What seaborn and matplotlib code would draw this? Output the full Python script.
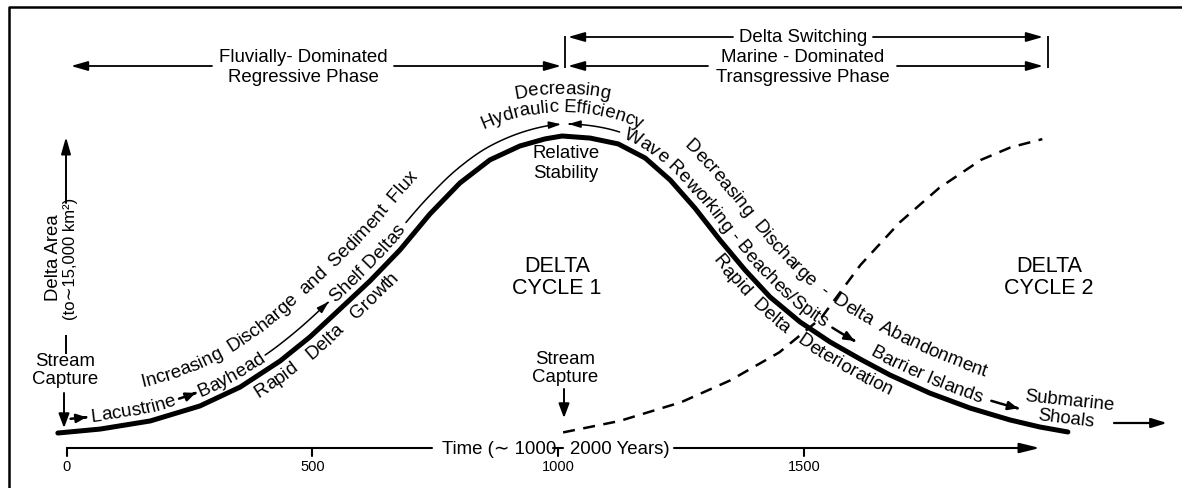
import numpy as np
import matplotlib
matplotlib.use("Agg")
import matplotlib.pyplot as plt
import seaborn as sns
from matplotlib.patches import FancyArrowPatch
from matplotlib.path import Path
from matplotlib.font_manager import FontProperties

# ---------------- data ----------------
cycle1_years = [-18, 68, 170, 271, 353, 434, 495, 556, 617, 678, 739, 800, 861, 922,
                973, 1008, 1065, 1122, 1177, 1228, 1278, 1329, 1380, 1431, 1492,
                1553, 1614, 1675, 1756, 1838, 1919, 1980, 2037]
cycle1_area = [0.72, 0.91, 1.3, 2.02, 2.93, 4.18, 5.34, 6.68, 8.03, 9.52, 11.25,
               12.74, 13.85, 14.52, 14.86, 15.0, 14.9, 14.62, 13.94, 12.88, 11.54,
               10.0, 8.56, 7.26, 6.06, 5.1, 4.28, 3.51, 2.64, 1.92, 1.35, 1.01, 0.77]
cycle2_years = [1010, 1125, 1250, 1350, 1450, 1535, 1615, 1695, 1775, 1860, 1920, 1985]
cycle2_area = [0.75, 1.3, 2.2, 3.25, 4.6, 6.25, 8.8, 10.85, 12.5, 13.85, 14.45, 14.85]
tick_years = [0, 500, 1000, 1500]
tick_labels = ["0", "500", "1000", "1500"]
time_axis_end = 1980

# ---------------- figure ----------------
sns.set_theme(style="white")
FAM = ["Liberation Sans", "DejaVu Sans"]
plt.rcParams["font.family"] = FAM
W, H = 1182, 488
fig = plt.figure(figsize=(W / 100, H / 100), dpi=100, facecolor="white")
ax = fig.add_axes([0, 0, 1, 1])
X0, SX = 66.7, 0.4915   # pixel of year 0, pixels per year
Y0, SY = 448.0, 20.8    # pixel row of zero area, pixels per area unit
ax.set_xlim(-X0 / SX, (W - X0) / SX)
ax.set_ylim(-(H - Y0) / SY, Y0 / SY)
ax.axis("off")
FS = 13.4
FSP = 13.6   # text along the curve
K = "black"


def P(px, py):
    return ((px - X0) / SX, (Y0 - py) / SY)


def line_px(pts, lw=1.3):
    d = np.array([P(*p) for p in pts])
    ax.plot(d[:, 0], d[:, 1], color=K, lw=lw, solid_capstyle="butt")


def arrow_px(p0, p1, lw=1.3, hl=14, hw=4.0):
    ms = 10
    style = f"-|>,head_length={hl * 0.72 / ms:.3f},head_width={hw * 0.72 / ms:.3f}"
    ax.annotate("", xy=P(*p1), xytext=P(*p0),
                arrowprops=dict(arrowstyle=style, color=K, lw=lw, mutation_scale=ms,
                                shrinkA=0, shrinkB=0))


def txt(px, py, s, fs=FS, ha="center", va="center", **kw):
    ax.text(*P(px, py), s, fontsize=fs, ha=ha, va=va, color=K, **kw)


# frame
ax.plot([9 / W, 9 / W, 1.01], [0, 1 - 7 / H, 1 - 7 / H], transform=ax.transAxes,
        color=K, lw=1.8, clip_on=False)

# curves
sns.lineplot(x=cycle1_years, y=cycle1_area, ax=ax, color=K, lw=3.6,
             sort=False, estimator=None)
sns.lineplot(x=cycle2_years, y=cycle2_area, ax=ax, color=K, lw=1.8,
             sort=False, estimator=None, linestyle=(0, (4.8, 3.4)))

# time axis
ax.plot([tick_years[0], P(432, 0)[0]], [0, 0], color=K, lw=1.5)
ms = 10
ax.annotate("", xy=(time_axis_end, 0), xytext=(P(674, 0)[0], 0),
            arrowprops=dict(arrowstyle=f"-|>,head_length={17*0.72/ms:.3f},head_width={4.2*0.72/ms:.3f}",
                            color=K, lw=1.5, mutation_scale=ms, shrinkA=0, shrinkB=0))
tick_len = 8 / SY
for yr, lab in zip(tick_years, tick_labels):
    ax.plot([yr, yr], [0, -tick_len], color=K, lw=1.5)
    ax.text(yr, P(0, 467)[1], lab, fontsize=10.5, ha="center", va="center", color=K)
ax.plot([1000 - 5 / SX, 1000 + 5 / SX], [0, 0], color=K, lw=1.5)
txt(556, 449, "Time (\u223c 1000", ha="right")
txt(570, 449, "2000 Years)", ha="left")

# phase brackets
txt(303, 58, "Fluvially- Dominated")
txt(303, 77, "Regressive Phase")
arrow_px((212, 66), (71, 66))
arrow_px((394, 66), (561, 66))
line_px([(565, 36), (565, 68)])
txt(803, 37, "Delta Switching")
arrow_px((733, 37), (568, 37))
arrow_px((873, 37), (1043, 37))
txt(803, 58, "Marine - Dominated")
txt(803, 77, "Transgressive Phase")
arrow_px((708, 66), (568, 66))
arrow_px((897, 66), (1043, 66))
line_px([(1048, 36), (1048, 68)])

# plain labels
txt(566, 154, "Relative")
txt(566, 173, "Stability")
txt(557, 267, "DELTA", fs=15.5)
txt(557, 289, "CYCLE 1", fs=15.5)
txt(1049, 267, "DELTA", fs=15.5)
txt(1049, 289, "CYCLE 2", fs=15.5)
txt(65, 361, "Stream")
txt(65, 379, "Capture")
txt(565, 359, "Stream")
txt(565, 377, "Capture")
arrow_px((64, 393), (64, 428), lw=1.4, hl=12, hw=4.5)
arrow_px((564, 389), (564, 418), lw=1.4, hl=12, hw=4.5)
txt(1069, 401, "Submarine", rotation=-6)
txt(1066, 419, "Shoals", rotation=-7)
arrow_px((1114, 423), (1167, 423), lw=1.6, hl=13, hw=4.0)
txt(53, 258, "Delta Area", rotation=90)
txt(71, 259, "(to\u223c15,000 km\u00b2)", fs=12, rotation=90)
arrow_px((66, 203), (66, 137), lw=1.4, hl=14, hw=4.0)
line_px([(66, 335), (66, 354)], lw=1.4)

# ---------------- text along paths ----------------
renderer = fig.canvas.get_renderer()
inv = ax.transData.inverted()


def adv(s, fs=FS):
    fp = FontProperties(family=FAM, size=fs)
    w1 = renderer.get_text_width_height_descent(s + "|", fp, ismath=False)[0]
    w0 = renderer.get_text_width_height_descent("|", fp, ismath=False)[0]
    return w1 - w0


def resample(pts, step=0.5):
    d = np.hypot(*np.diff(pts, axis=0).T)
    s = np.r_[0, np.cumsum(d)]
    ss = np.linspace(0, s[-1], int(s[-1] / step) + 1)
    return np.c_[np.interp(ss, s, pts[:, 0]), np.interp(ss, s, pts[:, 1])]


def smooth(pts, sigma=20):
    k = np.arange(-3 * sigma, 3 * sigma + 1)
    g = np.exp(-0.5 * (k / sigma) ** 2)
    g /= g.sum()
    pad = len(k) // 2
    a = 2 * pts[0] - pts[pad:0:-1]
    b = 2 * pts[-1] - pts[-2:-pad - 2:-1]
    ext = np.vstack([a, pts, b])
    return np.c_[np.convolve(ext[:, 0], g, "valid"), np.convolve(ext[:, 1], g, "valid")]


def offset(pts, d):
    t = np.gradient(pts, axis=0)
    t /= np.hypot(t[:, 0], t[:, 1])[:, None]
    return pts + d * np.c_[-t[:, 1], t[:, 0]]


base = smooth(resample(ax.transData.transform(np.c_[cycle1_years, cycle1_area]), 1.0), 12)


def along(path, items, x, d=0.0, align="start", fs=FSP, word_gap=9, lift=5.0):
    p = resample(offset(path, d), 0.5)
    s = np.r_[0, np.cumsum(np.hypot(*np.diff(p, axis=0).T))]

    def at(q):
        return np.interp(q, s, p[:, 0]), np.interp(q, s, p[:, 1])

    def ang(q):
        x1, y1 = at(q - 2)
        x2, y2 = at(q + 2)
        return np.arctan2(y2 - y1, x2 - x1)

    def s_of_x(xv):
        return s[int(np.argmax(p[:, 0] >= xv))]

    seq = []
    for it in items:
        if isinstance(it, str):
            for k, w in enumerate(it.split(" ")):
                if k:
                    seq.append(("g", word_gap))
                seq.append(w)
        else:
            seq.append(it)
    pos = s_of_x(x)
    if align == "center":
        total = sum(adv(it, fs) if isinstance(it, str) else it[1] for it in seq)
        pos -= total / 2
    for it in seq:
        if isinstance(it, str):
            for i, ch in enumerate(it):
                l, r = adv(it[:i], fs), adv(it[:i + 1], fs)
                c = pos + (l + r) / 2
                xd, yd = at(c)
                ax.text(*inv.transform((xd, yd)), ch, rotation=np.degrees(ang(c)),
                        ha="center", va="baseline", rotation_mode="anchor",
                        fontsize=fs, color=K)
            pos += adv(it, fs)
        elif it[0] == "g":
            pos += it[1]
        else:
            kind, L, lw, hl, hw = it
            if kind in ("ato", "rto"):
                L = s_of_x(L) - pos
            q = np.linspace(pos, pos + L, 80)
            xs, ys = at(q)
            a = ang(q)
            V = np.c_[xs - lift * np.sin(a), ys + lift * np.cos(a)]
            if kind.startswith("r"):
                V = V[::-1]
            msz = 10
            style = f"-|>,head_length={hl * 0.72 / msz:.3f},head_width={hw * 0.72 / msz:.3f}"
            ax.add_patch(FancyArrowPatch(path=Path(inv.transform(V)), arrowstyle=style,
                                         color=K, lw=lw, mutation_scale=msz))
            pos += L


# rising limb
along(base, [("a", 16, 1.8, 8, 3.5), ("g", 5), "Lacustrine", ("g", 4),
             ("a", 18, 1.8, 8, 3.5), ("g", 3), "Bayhead", ("g", 3),
             ("a", 84, 1.1, 10, 3.0), ("g", 4), "Shelf Deltas", ("g", 6),
             ("ato", 561, 1.1, 10, 3.0)], x=71, d=8, word_gap=5)
along(base, ["Increasing Discharge and Sediment Flux"], x=142, d=34, word_gap=9)
along(base, ["Rapid Delta Growth"], x=258, d=-19, word_gap=16)

# falling limb
along(base, [("rto", 618, 1.1, 10, 3.0), ("g", 5), "Wave Reworking - Beaches/Spits",
             ("g", 8), ("a", 26, 1.8, 8, 3.5), ("g", 20), "Barrier Islands", ("g", 10),
             ("a", 28, 1.8, 8, 3.5)], x=568, d=8, word_gap=5)
along(base, ["Decreasing Discharge - Delta Abandonment"], x=683, d=34, word_gap=10)
along(base, ["Rapid Delta", ("g", 14), "Deterioration"], x=712, d=-19, word_gap=11)

# arched label above the peak
cx = 562
for R, top, label in [(190, 112, "Hydraulic Efficiency"), (230, 94, "Decreasing")]:
    th = np.radians(np.linspace(160, 20, 600))
    cy = (H - top) - R
    arc = np.c_[cx + R * np.cos(th), cy + R * np.sin(th)]
    along(arc, [label], x=cx, align="center", fs=FS, word_gap=5)

fig.savefig("out.png", dpi=100, facecolor="white")
